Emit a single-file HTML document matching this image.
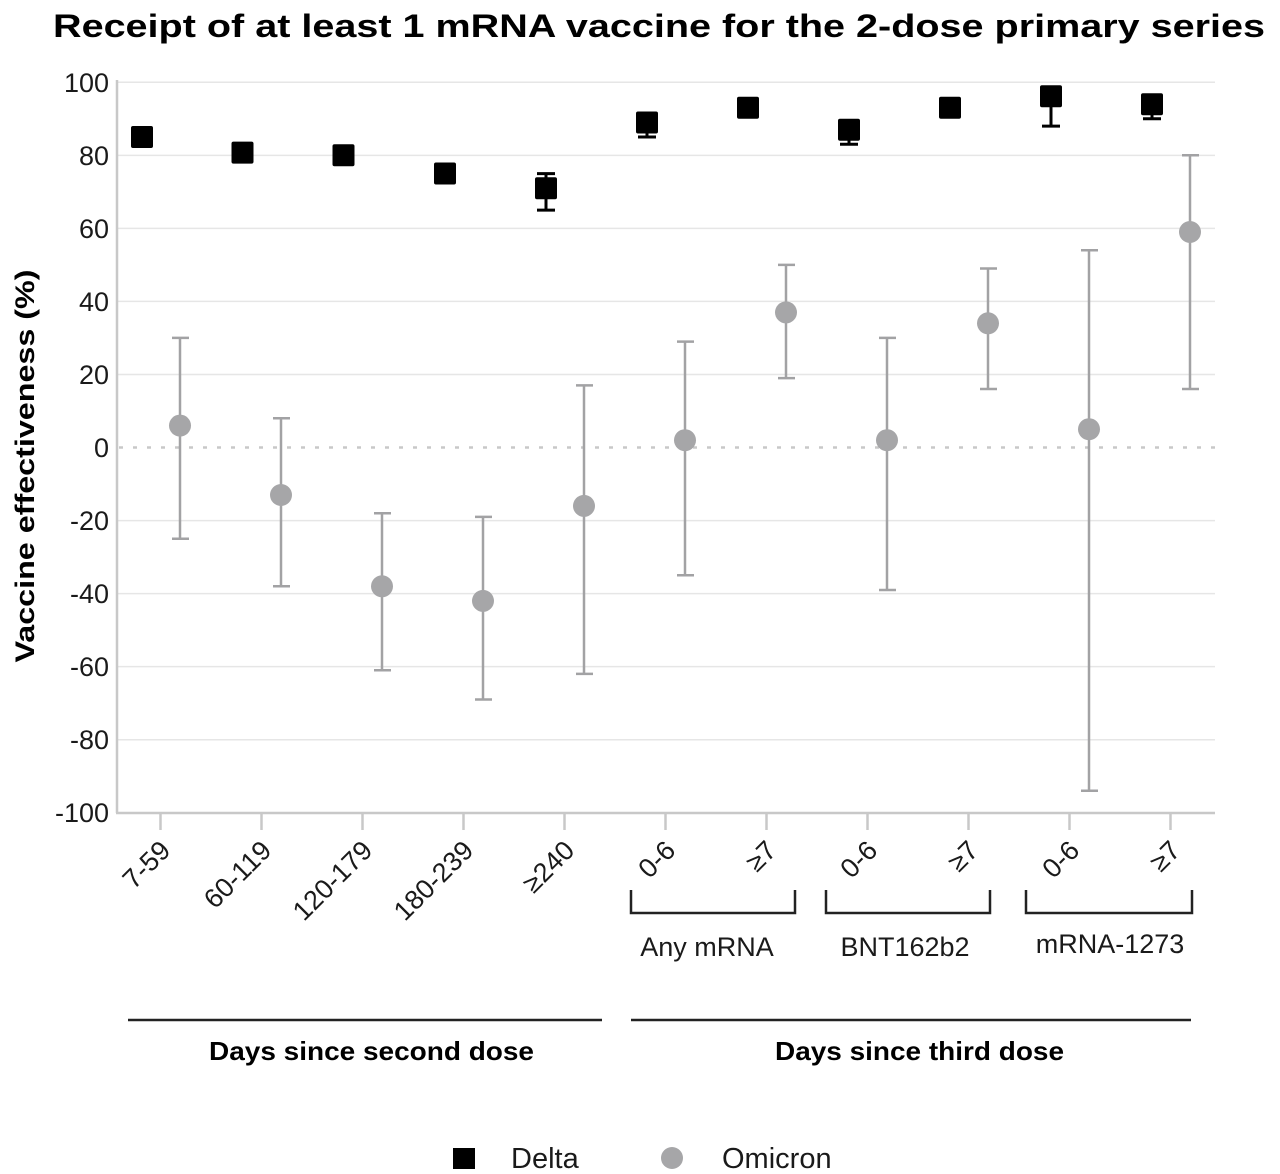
<!DOCTYPE html>
<html><head><meta charset="utf-8"><style>
html,body{margin:0;padding:0;background:#fff;}
svg{display:block;}
text{font-family:"Liberation Sans",Arial,sans-serif;}
</style></head><body>
<svg width="1280" height="1174" viewBox="0 0 1280 1174" xmlns="http://www.w3.org/2000/svg">
<rect width="1280" height="1174" fill="#fff"/>
<!-- title -->
<text x="53" y="37" font-size="32" font-weight="bold" fill="#000" textLength="1212" lengthAdjust="spacingAndGlyphs">Receipt of at least 1 mRNA vaccine for the 2-dose primary series</text>
<!-- gridlines -->
<g stroke="#e6e6e6" stroke-width="1.5">
<line x1="117" x2="1215" y1="82.3" y2="82.3"/>
<line x1="117" x2="1215" y1="155.4" y2="155.4"/>
<line x1="117" x2="1215" y1="228.4" y2="228.4"/>
<line x1="117" x2="1215" y1="301.4" y2="301.4"/>
<line x1="117" x2="1215" y1="374.5" y2="374.5"/>
<line x1="117" x2="1215" y1="520.6" y2="520.6"/>
<line x1="117" x2="1215" y1="593.6" y2="593.6"/>
<line x1="117" x2="1215" y1="666.6" y2="666.6"/>
<line x1="117" x2="1215" y1="739.7" y2="739.7"/>
</g>
<line x1="119" x2="1215" y1="447.5" y2="447.5" stroke="#c8c8c8" stroke-width="2.5" stroke-dasharray="4 10"/>
<!-- axes -->
<g stroke="#c8c8c8" stroke-width="2.5">
<line x1="117" x2="117" y1="80" y2="813"/>
<line x1="116" x2="1215" y1="813" y2="813"/>
<line x1="160.5" x2="160.5" y1="813" y2="830"/>
<line x1="261.5" x2="261.5" y1="813" y2="830"/>
<line x1="362.5" x2="362.5" y1="813" y2="830"/>
<line x1="463.5" x2="463.5" y1="813" y2="830"/>
<line x1="564.5" x2="564.5" y1="813" y2="830"/>
<line x1="665.5" x2="665.5" y1="813" y2="830"/>
<line x1="766.5" x2="766.5" y1="813" y2="830"/>
<line x1="867.5" x2="867.5" y1="813" y2="830"/>
<line x1="968.5" x2="968.5" y1="813" y2="830"/>
<line x1="1069.5" x2="1069.5" y1="813" y2="830"/>
<line x1="1170.5" x2="1170.5" y1="813" y2="830"/>
</g>
<!-- y tick labels -->
<g font-size="27" fill="#1a1a1a" text-anchor="end">
<text x="109" y="92">100</text>
<text x="109" y="165">80</text>
<text x="109" y="238">60</text>
<text x="109" y="311">40</text>
<text x="109" y="384">20</text>
<text x="109" y="457">0</text>
<text x="109" y="530">-20</text>
<text x="109" y="603">-40</text>
<text x="109" y="676">-60</text>
<text x="109" y="749">-80</text>
<text x="109" y="822">-100</text>
</g>
<!-- y axis title -->
<text transform="translate(34,466) rotate(-90)" text-anchor="middle" font-size="27" font-weight="bold" fill="#000" textLength="393" lengthAdjust="spacingAndGlyphs">Vaccine effectiveness (%)</text>
<!-- x tick labels -->
<g font-size="27" fill="#1a1a1a" text-anchor="end">
<text transform="translate(172,852) rotate(-45)">7-59</text>
<text transform="translate(273,852) rotate(-45)">60-119</text>
<text transform="translate(374,852) rotate(-45)">120-179</text>
<text transform="translate(475,852) rotate(-45)">180-239</text>
<text transform="translate(576,852) rotate(-45)">≥240</text>
<text transform="translate(677,852) rotate(-45)">0-6</text>
<text transform="translate(778,852) rotate(-45)">≥7</text>
<text transform="translate(879,852) rotate(-45)">0-6</text>
<text transform="translate(980,852) rotate(-45)">≥7</text>
<text transform="translate(1081,852) rotate(-45)">0-6</text>
<text transform="translate(1182,852) rotate(-45)">≥7</text>
</g>
<!-- brackets -->
<g stroke="#222" stroke-width="2.5" fill="none">
<polyline points="631,890 631,913 795,913 795,890"/>
<polyline points="826,890 826,913 990,913 990,890"/>
<polyline points="1026,890 1026,913 1192,913 1192,890"/>
<line x1="128" x2="602" y1="1020" y2="1020"/>
<line x1="631" x2="1191" y1="1020" y2="1020"/>
</g>
<g font-size="27" fill="#1a1a1a" text-anchor="middle">
<text x="707" y="956">Any mRNA</text>
<text x="905" y="956">BNT162b2</text>
<text x="1110" y="953">mRNA-1273</text>
</g>
<g font-size="26" font-weight="bold" fill="#000" text-anchor="middle">
<text x="371.5" y="1060" textLength="325" lengthAdjust="spacingAndGlyphs">Days since second dose</text>
<text x="919.5" y="1060" textLength="289" lengthAdjust="spacingAndGlyphs">Days since third dose</text>
</g>
<!-- Omicron error bars -->
<g stroke="#a2a2a4" stroke-width="2.5">
<line x1="180" x2="180" y1="337.9" y2="538.8"/><line x1="172" x2="189" y1="337.9" y2="337.9"/><line x1="172" x2="189" y1="538.8" y2="538.8"/>
<line x1="281" x2="281" y1="418.3" y2="586.3"/><line x1="273" x2="290" y1="418.3" y2="418.3"/><line x1="273" x2="290" y1="586.3" y2="586.3"/>
<line x1="382" x2="382" y1="513.2" y2="670.3"/><line x1="374" x2="391" y1="513.2" y2="513.2"/><line x1="374" x2="391" y1="670.3" y2="670.3"/>
<line x1="483" x2="483" y1="516.9" y2="699.5"/><line x1="475" x2="492" y1="516.9" y2="516.9"/><line x1="475" x2="492" y1="699.5" y2="699.5"/>
<line x1="584" x2="584" y1="385.4" y2="673.9"/><line x1="576" x2="593" y1="385.4" y2="385.4"/><line x1="576" x2="593" y1="673.9" y2="673.9"/>
<line x1="685" x2="685" y1="341.6" y2="575.3"/><line x1="677" x2="694" y1="341.6" y2="341.6"/><line x1="677" x2="694" y1="575.3" y2="575.3"/>
<line x1="786" x2="786" y1="264.9" y2="378.1"/><line x1="778" x2="795" y1="264.9" y2="264.9"/><line x1="778" x2="795" y1="378.1" y2="378.1"/>
<line x1="887" x2="887" y1="337.9" y2="590"/><line x1="879" x2="896" y1="337.9" y2="337.9"/><line x1="879" x2="896" y1="590" y2="590"/>
<line x1="988" x2="988" y1="268.5" y2="389"/><line x1="980" x2="997" y1="268.5" y2="268.5"/><line x1="980" x2="997" y1="389" y2="389"/>
<line x1="1089" x2="1089" y1="250.3" y2="790.8"/><line x1="1081" x2="1098" y1="250.3" y2="250.3"/><line x1="1081" x2="1098" y1="790.8" y2="790.8"/>
<line x1="1190" x2="1190" y1="155.3" y2="389"/><line x1="1182" x2="1199" y1="155.3" y2="155.3"/><line x1="1182" x2="1199" y1="389" y2="389"/>
</g>
<g fill="#a6a6a8">
<circle cx="180" cy="425.6" r="11"/>
<circle cx="281" cy="495" r="11"/>
<circle cx="382" cy="586.3" r="11"/>
<circle cx="483" cy="600.9" r="11"/>
<circle cx="584" cy="505.9" r="11"/>
<circle cx="685" cy="440.2" r="11"/>
<circle cx="786" cy="312.4" r="11"/>
<circle cx="887" cy="440.2" r="11"/>
<circle cx="988" cy="323.3" r="11"/>
<circle cx="1089" cy="429.2" r="11"/>
<circle cx="1190" cy="232" r="11"/>
</g>
<!-- Delta error bars -->
<g stroke="#000" stroke-width="3">
<line x1="546" x2="546" y1="173.6" y2="210.1"/><line x1="537" x2="555" y1="173.6" y2="173.6"/><line x1="537" x2="555" y1="210.1" y2="210.1"/>
<line x1="647" x2="647" y1="122.5" y2="137"/><line x1="638" x2="656" y1="137" y2="137"/>
<line x1="849" x2="849" y1="129.8" y2="144.3"/><line x1="840" x2="858" y1="144.3" y2="144.3"/>
<line x1="1051" x2="1051" y1="96.8" y2="126.1"/><line x1="1042" x2="1060" y1="126.1" y2="126.1"/>
<line x1="1152" x2="1152" y1="104.2" y2="118.8"/><line x1="1143" x2="1161" y1="118.8" y2="118.8"/>
</g>
<g fill="#000">
<rect x="131" y="126" width="22" height="22" rx="2"/>
<rect x="231.5" y="141.6" width="22" height="22" rx="2"/>
<rect x="332.5" y="144.3" width="22" height="22" rx="2"/>
<rect x="434" y="162.5" width="22" height="22" rx="2"/>
<rect x="535" y="177.2" width="22" height="22" rx="2"/>
<rect x="636" y="111.5" width="22" height="22" rx="2"/>
<rect x="737" y="96.8" width="22" height="22" rx="2"/>
<rect x="838" y="118.8" width="22" height="22" rx="2"/>
<rect x="939" y="96.8" width="22" height="22" rx="2"/>
<rect x="1040" y="85.2" width="22" height="22" rx="2"/>
<rect x="1141" y="93.2" width="22" height="22" rx="2"/>
</g>
<!-- legend -->
<rect x="453" y="1148" width="22" height="21" fill="#000"/>
<text x="511" y="1168" font-size="29" fill="#1a1a1a">Delta</text>
<circle cx="672" cy="1158" r="11" fill="#a6a6a8"/>
<text x="722" y="1168" font-size="29" fill="#1a1a1a">Omicron</text>
</svg>
</body></html>
